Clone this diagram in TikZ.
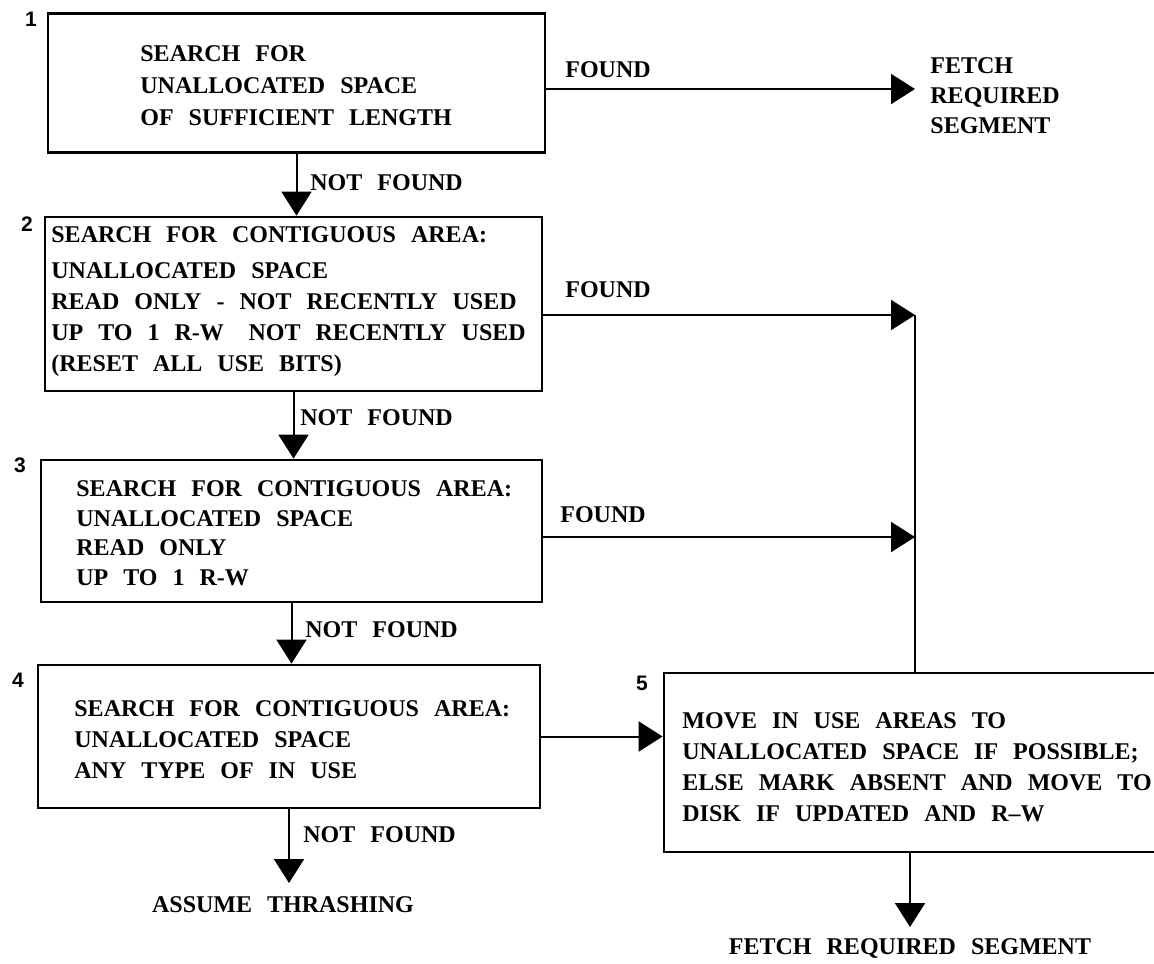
\documentclass[tikz,border=0pt]{standalone}
\usepackage{fontspec}
\setmainfont{Liberation Serif}[WordSpace=2.5]
\newfontfamily\numfont{Liberation Sans}
\usetikzlibrary{arrows.meta}
\begin{document}
\begin{tikzpicture}[x=0.5pt,y=-0.5pt,
  box/.style={draw, line width=1.4pt, inner sep=0pt, rectangle},
  txt/.style={anchor=north west, inner sep=0pt, align=left, font=\bfseries\fontsize{12}{15}\selectfont},
  lbl/.style={anchor=west, inner sep=0pt, font=\bfseries\fontsize{12}{15}\selectfont},
  ctr/.style={inner sep=0pt, font=\bfseries\fontsize{12}{15}\selectfont},
  num/.style={inner sep=0pt, font=\numfont\bfseries\fontsize{10.5}{12}\selectfont},
  conn/.style={line width=1pt},
  arr/.style={conn, -{Triangle[length=12pt,width=15pt]}},
]
\useasboundingbox (0,0) rectangle (1154,963);
\clip (0,0) rectangle (1154,963);

% boxes
\node[box, minimum width=248.5pt, minimum height=69.5pt] (b1) at (296.5,83) {};
\node[box, minimum width=248.5pt, minimum height=87pt]   (b2) at (293.5,304) {};
\node[box, minimum width=250.5pt, minimum height=71pt]   (b3) at (291.5,531) {};
\node[box, minimum width=251pt,   minimum height=71.5pt] (b4) at (289,736.5) {};
\node[box, minimum width=258pt,   minimum height=89.5pt] (b5) at (922,762.5) {};

% numbers
\node[num] (n1) at (31,19) {1};
\node[num] (n2) at (27,224) {2};
\node[num] (n3) at (20,465) {3};
\node[num] (n4) at (18,680) {4};
\node[num] (n5) at (642,683) {5};

% box texts
\node[txt, font=\bfseries\fontsize{12}{16}\selectfont] (t1) at (140,45)
  {SEARCH FOR\\UNALLOCATED SPACE\\OF SUFFICIENT LENGTH};
\node[txt, font=\bfseries\fontsize{12}{15.5}\selectfont] (t2) at (51,226)
  {SEARCH FOR CONTIGUOUS AREA:\\[2.5pt]UNALLOCATED SPACE\\READ ONLY - NOT RECENTLY USED\\UP TO 1 R-W\hspace{0.4em} NOT RECENTLY USED\\(RESET ALL USE BITS)};
\node[txt, font=\bfseries\fontsize{12}{14.85}\selectfont] (t3) at (76,480)
  {SEARCH FOR CONTIGUOUS AREA:\\UNALLOCATED SPACE\\READ ONLY\\UP TO 1 R-W};
\node[txt, font=\bfseries\fontsize{12}{15.5}\selectfont] (t4) at (74,700)
  {SEARCH FOR CONTIGUOUS AREA:\\UNALLOCATED SPACE\\ANY TYPE OF IN USE};
\node[txt, font=\bfseries\fontsize{12}{15.5}\selectfont] (t5) at (682,712)
  {MOVE IN USE AREAS TO\\UNALLOCATED SPACE IF POSSIBLE;\\ELSE MARK ABSENT AND MOVE TO\\DISK IF UPDATED AND R--W};

% labels
\node[lbl] (nf1) at (310,183) {NOT FOUND};
\node[lbl] (nf2) at (300,418) {NOT FOUND};
\node[lbl] (nf3) at (305,630) {NOT FOUND};
\node[lbl] (nf4) at (303,835) {NOT FOUND};
\node[lbl] (fd1) at (565,70) {FOUND};
\node[lbl] (fd2) at (565,290) {FOUND};
\node[lbl] (fd3) at (560,515) {FOUND};
\node[txt] (fa) at (930,57) {FETCH\\REQUIRED\\SEGMENT};
\node[ctr] (fb) at (910,948) {FETCH REQUIRED SEGMENT};
\node[ctr] (as) at (283,905) {ASSUME THRASHING};

% junction coordinates
\coordinate (ta) at (915,89);
\coordinate (j2) at (915,315);
\coordinate (j3) at (915,537);
\coordinate (tt) at (285,883);
\coordinate (tb) at (910,927);

% connectors
\draw[arr] (b1.south) -- (b1.south |- b2.north);
\draw[arr] (b2.south) -- (b2.south |- b3.north);
\draw[arr] (b3.south) -- (b3.south |- b4.north);
\draw[arr] (b4.south) -- (b4.south |- tt);
\draw[arr] (b1.east |- ta) -- (ta);
\draw[arr] (b2.east |- j2) -- (j2);
\draw[arr] (b3.east |- j3) -- (j3);
\draw[conn] (j2) -- (j2 |- b5.north);
\draw[arr] (b4.east) -- (b4.east -| b5.west);
\draw[arr] (tb |- b5.south) -- (tb);
\end{tikzpicture}
\end{document}
